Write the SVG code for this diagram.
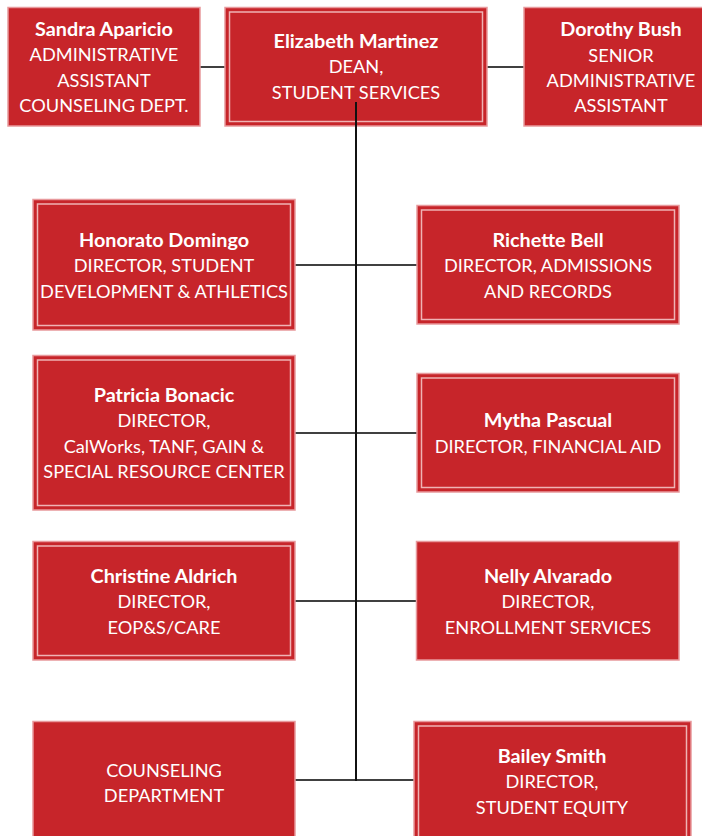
<svg xmlns="http://www.w3.org/2000/svg" width="702" height="836" viewBox="0 0 702 836">
<style>
.box{fill:#C7252A;stroke:#E8999C;stroke-width:1.5}
.inner{fill:none;stroke:#EFB3B4;stroke-width:1.5}
text{font-family:Lato,"Liberation Sans",sans-serif;font-size:18.2px;fill:#FFFFFF;text-anchor:middle}
.b{font-weight:bold;font-size:19.8px}
.c{stroke:#404040;stroke-width:2;fill:none}
.v{stroke:#111111;stroke-width:2;fill:none}
</style>
<rect width="702" height="836" fill="#FFFFFF"/>
<g id="connectors">
<line class="c" x1="200" y1="67" x2="225" y2="67"/>
<line class="c" x1="487" y1="67" x2="524" y2="67"/>
<line class="c" x1="295" y1="265" x2="417" y2="265"/>
<line class="c" x1="295" y1="433" x2="417" y2="433"/>
<line class="c" x1="295" y1="601" x2="416" y2="601"/>
<line class="c" x1="295" y1="780" x2="414" y2="780"/>
</g>
<g id="sandra">
<rect class="box" x="8" y="7.5" width="192" height="118.5"/>
<text x="104" y="36" class="b">Sandra Aparicio</text>
<text x="104" y="61">ADMINISTRATIVE</text>
<text x="104" y="87">ASSISTANT</text>
<text x="104" y="112">COUNSELING DEPT.</text>
</g>
<g id="elizabeth">
<rect class="box" x="225" y="7.5" width="262" height="118.5"/>
<rect class="inner" x="229.5" y="12" width="253" height="109.5"/>
<text x="356" y="48" class="b">Elizabeth Martinez</text>
<text x="356" y="73">DEAN,</text>
<text x="356" y="99">STUDENT SERVICES</text>
</g>
<g id="dorothy">
<rect class="box" x="524" y="7.5" width="194" height="118.5"/>
<text x="621" y="36" class="b">Dorothy Bush</text>
<text x="621" y="61.5">SENIOR</text>
<text x="621" y="87">ADMINISTRATIVE</text>
<text x="621" y="112">ASSISTANT</text>
</g>
<g id="honorato">
<rect class="box" x="33" y="199.5" width="262" height="130.5"/>
<rect class="inner" x="37.5" y="204" width="253" height="121.5"/>
<text x="164" y="247" class="b">Honorato Domingo</text>
<text x="164" y="272">DIRECTOR, STUDENT</text>
<text x="164" y="298">DEVELOPMENT &amp; ATHLETICS</text>
</g>
<g id="richette">
<rect class="box" x="417" y="205.5" width="262" height="118.5"/>
<rect class="inner" x="421.5" y="210" width="253" height="109.5"/>
<text x="548" y="247" class="b">Richette Bell</text>
<text x="548" y="272">DIRECTOR, ADMISSIONS</text>
<text x="548" y="298">AND RECORDS</text>
</g>
<g id="patricia">
<rect class="box" x="33" y="355.5" width="262" height="154.5"/>
<rect class="inner" x="37.5" y="360" width="253" height="145.5"/>
<text x="164" y="402" class="b">Patricia Bonacic</text>
<text x="164" y="427">DIRECTOR,</text>
<text x="164" y="453">CalWorks, TANF, GAIN &amp;</text>
<text x="164" y="478">SPECIAL RESOURCE CENTER</text>
</g>
<g id="mytha">
<rect class="box" x="417" y="373.5" width="262" height="118.5"/>
<rect class="inner" x="421.5" y="378" width="253" height="109.5"/>
<text x="548" y="427" class="b">Mytha Pascual</text>
<text x="548" y="452.5">DIRECTOR, FINANCIAL AID</text>
</g>
<g id="christine">
<rect class="box" x="33" y="541.5" width="262" height="118.5"/>
<rect class="inner" x="37.5" y="546" width="253" height="109.5"/>
<text x="164" y="583" class="b">Christine Aldrich</text>
<text x="164" y="608">DIRECTOR,</text>
<text x="164" y="634">EOP&amp;S/CARE</text>
</g>
<g id="nelly">
<rect class="box" x="416.5" y="541.5" width="262.5" height="118.5"/>
<text x="548" y="583" class="b">Nelly Alvarado</text>
<text x="548" y="608">DIRECTOR,</text>
<text x="548" y="634">ENROLLMENT SERVICES</text>
</g>
<g id="counseling">
<rect class="box" x="33" y="721.5" width="262" height="130"/>
<text x="164" y="777">COUNSELING</text>
<text x="164" y="802">DEPARTMENT</text>
</g>
<g id="bailey">
<rect class="box" x="414" y="721.5" width="277" height="130"/>
<rect class="inner" x="418.5" y="726" width="268" height="121"/>
<text x="552" y="763" class="b">Bailey Smith</text>
<text x="552" y="788">DIRECTOR,</text>
<text x="552" y="814">STUDENT EQUITY</text>
</g>
<g id="trunk">
<line class="v" x1="356" y1="102" x2="356" y2="781"/>
</g>
</svg>
